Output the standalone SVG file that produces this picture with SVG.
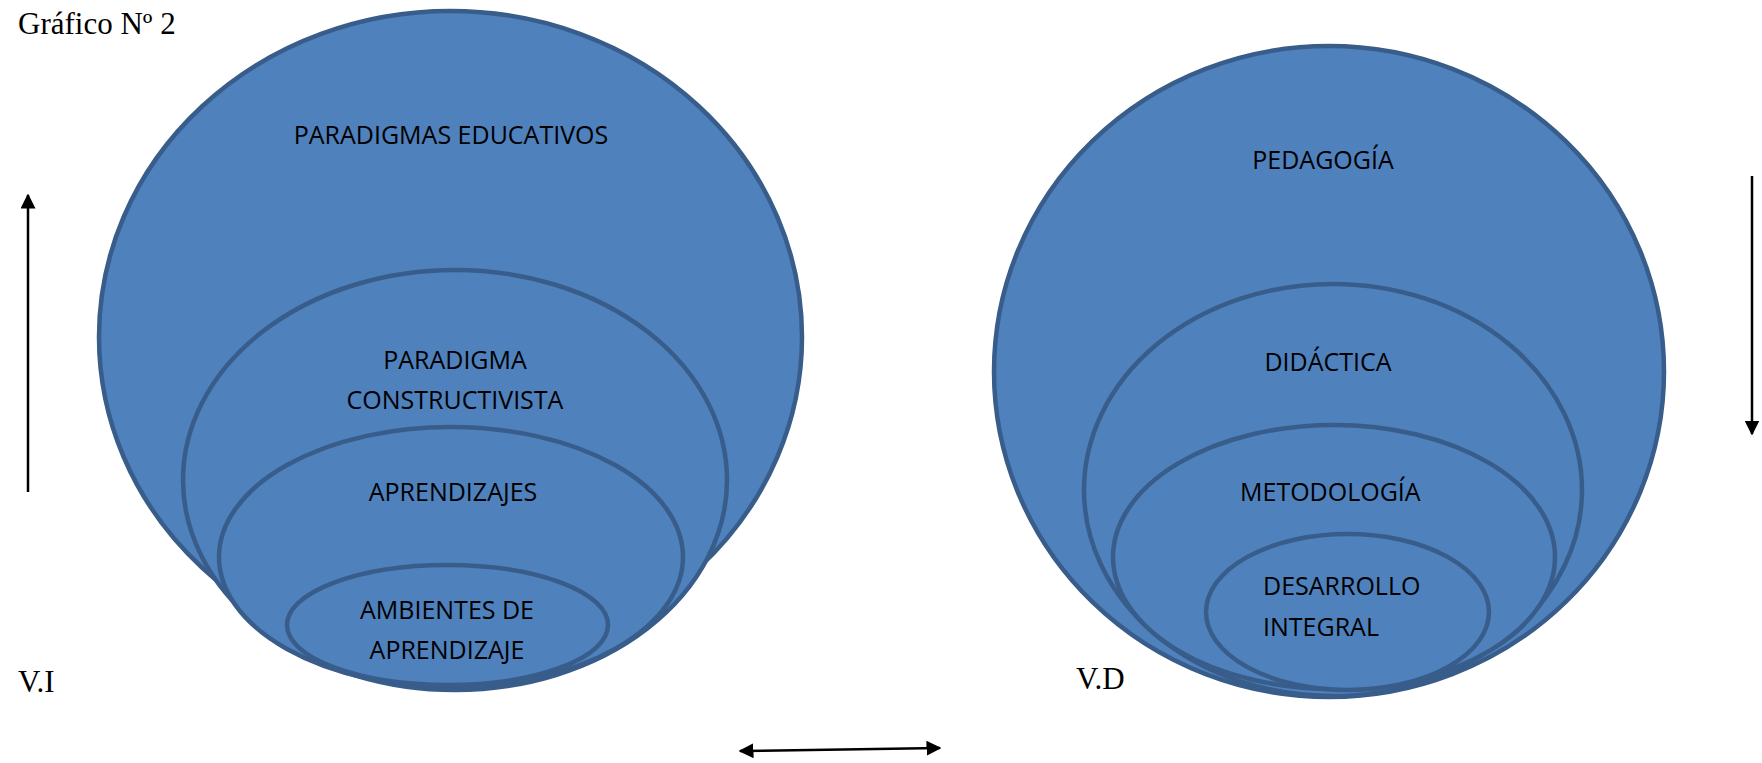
<svg xmlns="http://www.w3.org/2000/svg" width="1762" height="763" viewBox="0 0 1762 763">
<defs>
<style>
.e{fill:#4F81BD;stroke:#385D8A;stroke-width:4.5}
.t{font-family:"Open Sans","Liberation Sans",sans-serif;font-size:25px;fill:#000}
.s{font-family:"Liberation Serif",serif;font-size:31px;fill:#000}
.a{stroke:#000;stroke-width:2.5;fill:none}
</style>
<marker id="h" viewBox="0 0 10 10" refX="9" refY="5" markerWidth="6" markerHeight="6" orient="auto-start-reverse" markerUnits="strokeWidth">
<path d="M0,0 L10,5 L0,10 z" fill="#000"/>
</marker>
</defs>
<rect width="1762" height="763" fill="#fff"/>
<text class="s" x="18" y="34">Gráfico Nº 2</text>
<text class="s" x="18" y="692">V.I</text>
<text class="s" x="1076" y="689">V.D</text>

<g id="paradigmas-educativos">
<ellipse class="e" cx="450.5" cy="337" rx="351.5" ry="326"/>
<text class="t" x="451" y="144" text-anchor="middle">PARADIGMAS EDUCATIVOS</text>
</g>
<g id="paradigma-constructivista">
<ellipse class="e" cx="455" cy="480" rx="272" ry="210"/>
<text class="t" x="455" y="369" text-anchor="middle">PARADIGMA</text>
<text class="t" x="455" y="409" text-anchor="middle">CONSTRUCTIVISTA</text>
</g>
<g id="aprendizajes">
<ellipse class="e" cx="451" cy="557" rx="232" ry="130"/>
<text class="t" x="453" y="501" text-anchor="middle">APRENDIZAJES</text>
</g>
<g id="ambientes">
<ellipse class="e" cx="447.5" cy="625" rx="160.5" ry="60"/>
<text class="t" x="447" y="619" text-anchor="middle">AMBIENTES DE</text>
<text class="t" x="447" y="659" text-anchor="middle">APRENDIZAJE</text>
</g>

<g id="pedagogia">
<ellipse class="e" cx="1329" cy="371.5" rx="335" ry="325.5"/>
<text class="t" x="1323" y="169" text-anchor="middle">PEDAGOGÍA</text>
</g>
<g id="didactica">
<ellipse class="e" cx="1333" cy="490" rx="249" ry="206"/>
<text class="t" x="1328" y="371" text-anchor="middle">DIDÁCTICA</text>
</g>
<g id="metodologia">
<ellipse class="e" cx="1334" cy="557" rx="221" ry="132"/>
<text class="t" x="1240" y="501">METODOLOGÍA</text>
</g>
<g id="desarrollo-integral">
<ellipse class="e" cx="1347.5" cy="612" rx="141.5" ry="78"/>
<text class="t" x="1263" y="595">DESARROLLO</text>
<text class="t" x="1263" y="636">INTEGRAL</text>
</g>

<g id="connectors">
<line class="a" x1="28" y1="492" x2="28" y2="195" marker-end="url(#h)"/>
<line class="a" x1="1752" y1="176" x2="1752" y2="434" marker-end="url(#h)"/>
<line class="a" x1="740" y1="751" x2="940" y2="748" marker-start="url(#h)" marker-end="url(#h)"/>
</g>
</svg>
